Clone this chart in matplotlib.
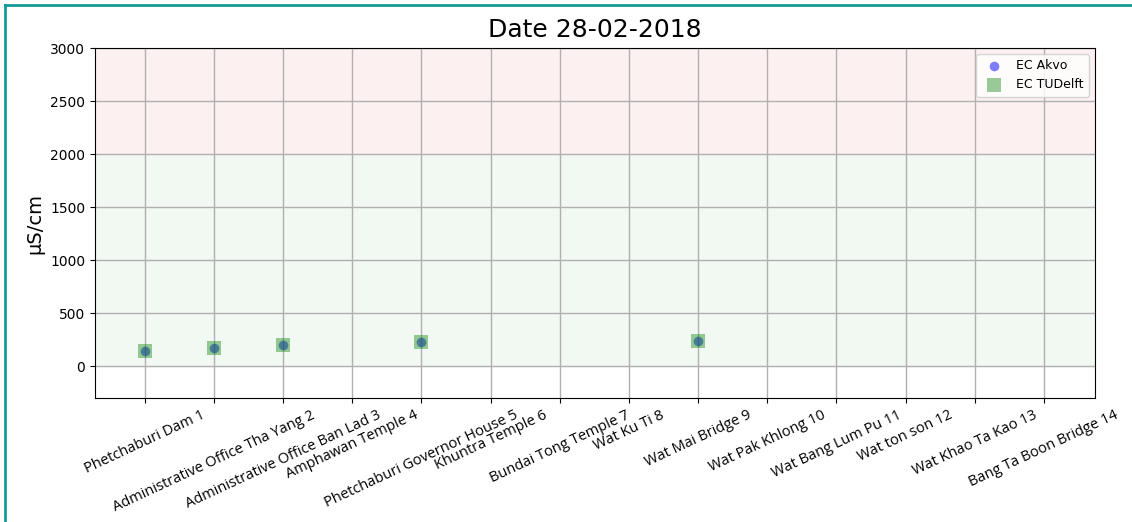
import numpy as np
import matplotlib.pyplot as plt
from matplotlib.lines import Line2D

# station names (x tick labels)
stations = ['Phetchaburi Dam 1', 'Administrative Office Tha Yang 2',
            'Administrative Office Ban Lad 3', 'Amphawan Temple 4',
            'Phetchaburi Governor House 5', 'Khuntra Temple 6',
            'Bundai Tong Temple 7', 'Wat Ku Ti 8', 'Wat Mai Bridge 9',
            'Wat Pak Khlong 10', 'Wat Bang Lum Pu 11', 'Wat ton son 12',
            'Wat Khao Ta Kao 13', 'Bang Ta Boon Bridge 14']

# measured values, nan = no measurement that day
ec_akvo = [141, 167, 202, np.nan, 226, np.nan, np.nan, np.nan, 233,
           np.nan, np.nan, np.nan, np.nan, np.nan]
ec_tudelft = [141, 167, 202, np.nan, 226, np.nan, np.nan, np.nan, 233,
              np.nan, np.nan, np.nan, np.nan, np.nan]

date = '28-02-2018'

x = np.arange(len(stations))

fig = plt.figure(figsize=(11.32, 5.22), dpi=100)
ax = fig.add_axes([95 / 1132, 1 - 398 / 522, 1000 / 1132, 350 / 522])

# background bands
ax.axhspan(2000, 3000, color='#fdf0f0', zorder=0)
ax.axhspan(0, 2000, color='#f2f8f2', zorder=0)

# akvo circles first, tudelft squares drawn over them
ax.scatter(x, ec_akvo, s=48, c='b', alpha=0.5, marker='o', linewidths=0,
           label='EC Akvo', zorder=2)
ax.scatter(x, ec_tudelft, s=105, c='g', alpha=0.4, marker='s', linewidths=0,
           label='EC TUDelft', zorder=3)

ax.set_xlim(-0.72, 13.74)
ax.set_ylim(-300, 3000)
ax.set_xticks(x)
ax.set_xticklabels(stations, rotation=25, ha='center', family='Open Sans', fontsize=10.5)
ax.set_yticks([0, 500, 1000, 1500, 2000, 2500, 3000])
ax.tick_params(axis='y', labelsize=10)
ax.grid(True, color='#b0b0b0', linewidth=1, zorder=1)
ax.set_axisbelow(True)

ax.set_ylabel('µS/cm', fontsize=14)
ax.set_title('Date ' + date, fontsize=18, pad=8)

leg = ax.legend(loc='upper right', fontsize=9, borderaxespad=0.5)

# teal frame on left and top edges
fig.add_artist(Line2D([5 / 1132, 5 / 1132], [0, 1 - 5 / 522], transform=fig.transFigure,
                      color='#109a9a', linewidth=2))
fig.add_artist(Line2D([5 / 1132, 1], [1 - 5 / 522, 1 - 5 / 522], transform=fig.transFigure,
                      color='#109a9a', linewidth=2))

plt.savefig('out.png', dpi=100)
